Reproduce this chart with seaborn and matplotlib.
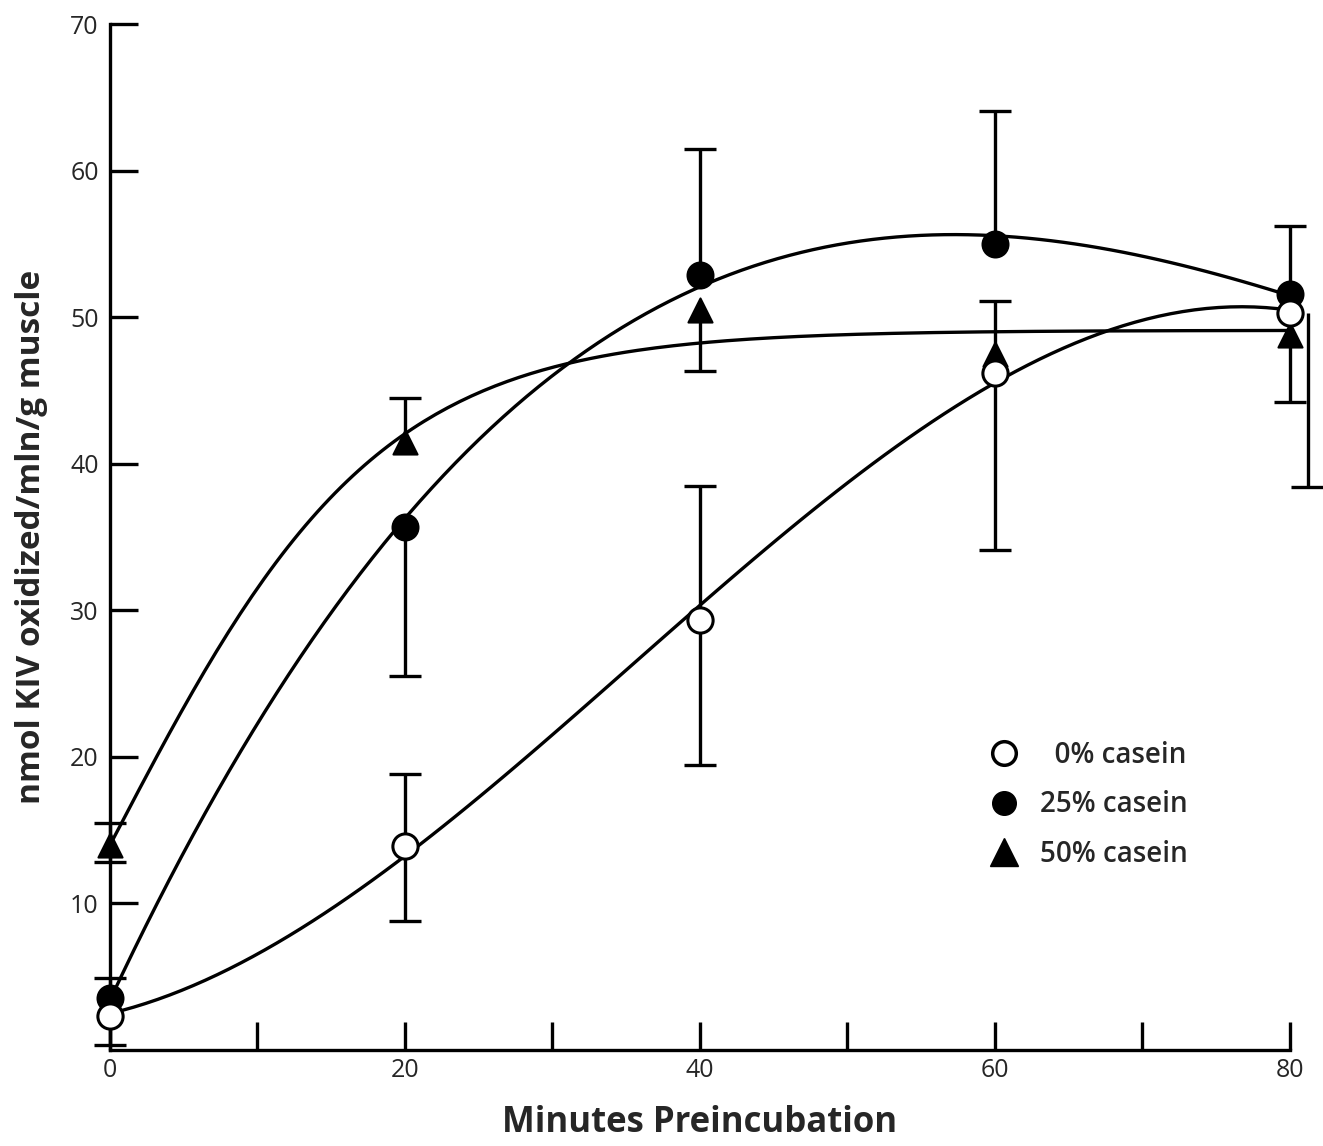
import numpy as np
import matplotlib
matplotlib.use('Agg')
import matplotlib.pyplot as plt
import seaborn as sns
from matplotlib.lines import Line2D

# values
minutes = [0, 20, 40, 60, 80]

casein0 = [2.3, 13.9, 29.3, 46.2, 50.3]
casein0_err_x = [0, 20, 40, 60, 81.2]
casein0_lo = [2.0, 5.1, 9.9, 12.1, 11.9]
casein0_hi = [0.0, 4.9, 9.2, 0.0, 0.0]

casein25 = [3.5, 35.7, 52.9, 55.0, 51.6]
casein25_lo = [0.0, 10.2, 0.0, 0.0, 0.0]
casein25_hi = [1.4, 0.0, 8.6, 9.1, 4.6]

casein50 = [14.0, 41.5, 50.5, 47.5, 48.8]
casein50_lo = [1.2, 0.0, 4.2, 0.0, 4.6]
casein50_hi = [1.5, 3.0, 0.0, 3.6, 0.0]

legend_labels = ['  0% casein', '25% casein', '50% casein']

sns.set_style('ticks')
plt.rcParams['font.family'] = ['Open Sans', 'DejaVu Sans']

fig = plt.figure(figsize=(13.23, 11.46), dpi=100)
ax = fig.add_axes([0.083, 0.084, 0.892, 0.895])

LW = 2.4
CAP = 1.1  # half width of error caps in minutes


def draw_errors(xs, ys, lo, hi):
    for x, y, l, h in zip(xs, ys, lo, hi):
        if l > 0:
            ax.vlines(x, y - l, y, color='black', lw=LW, zorder=2, clip_on=False)
            ax.hlines(y - l, x - CAP, x + CAP, color='black', lw=LW, zorder=2, clip_on=False)
        if h > 0:
            ax.vlines(x, y, y + h, color='black', lw=LW, zorder=2, clip_on=False)
            ax.hlines(y + h, x - CAP, x + CAP, color='black', lw=LW, zorder=2, clip_on=False)


def saturating_fit(xs, ys):
    # least squares fit of y = a + b*tanh(x/tau), tau by grid search
    xs = np.asarray(xs, float)
    ys = np.asarray(ys, float)
    best = None
    for tau in np.linspace(5, 60, 221):
        A = np.column_stack([np.ones_like(xs), np.tanh(xs / tau)])
        coef, *_ = np.linalg.lstsq(A, ys, rcond=None)
        err = np.sum((A @ coef - ys) ** 2)
        if best is None or err < best[0]:
            best = (err, tau, coef)
    _, tau, coef = best
    grid = np.linspace(xs.min(), xs.max(), 200)
    return grid, coef[0] + coef[1] * np.tanh(grid / tau)


line_kws = dict(color='black', lw=LW, zorder=2, clip_on=False)
for vals in [casein0, casein25]:
    sns.regplot(x=minutes, y=vals, order=3, ci=None, scatter=False,
                truncate=True, line_kws=line_kws, ax=ax)
gx, gy = saturating_fit(minutes, casein50)
sns.lineplot(x=gx, y=gy, color='black', lw=LW, zorder=2, ax=ax, clip_on=False)

draw_errors(casein0_err_x, casein0, casein0_lo, casein0_hi)
draw_errors(minutes, casein25, casein25_lo, casein25_hi)
draw_errors(minutes, casein50, casein50_lo, casein50_hi)

ax.scatter(minutes, casein50, marker='^', s=300, facecolor='black',
           edgecolor='black', linewidth=1.5, zorder=3, clip_on=False)
ax.scatter(minutes, casein25, marker='o', s=330, facecolor='black',
           edgecolor='black', linewidth=2, zorder=4, clip_on=False)
ax.scatter(minutes, casein0, marker='o', s=330, facecolor='white',
           edgecolor='black', linewidth=2.2, zorder=5, clip_on=False)

ax.set_xlim(0, 80)
ax.set_ylim(0, 70)
ax.set_xticks([0, 20, 40, 60, 80])
ax.set_xticks([10, 30, 50, 70], minor=True)
ax.set_yticks([10, 20, 30, 40, 50, 60, 70])
ax.tick_params(axis='both', which='both', direction='in', length=20,
               width=LW, labelsize=18, color='black')
ax.tick_params(axis='x', pad=6)
ax.tick_params(axis='y', pad=8)
for lab in ax.get_xticklabels() + ax.get_yticklabels():
    lab.set_fontweight('medium')
sns.despine(ax=ax)
for s in ['left', 'bottom']:
    ax.spines[s].set_linewidth(LW)
    ax.spines[s].set_color('black')

ax.set_xlabel('Minutes Preincubation', fontsize=25, fontweight='bold', labelpad=16)
ax.set_ylabel('nmol KIV oxidized/mln/g muscle', fontsize=24, fontweight='bold', labelpad=16)

handles = [
    Line2D([], [], marker='o', ls='', markersize=17, markerfacecolor='white',
           markeredgecolor='black', markeredgewidth=2.5),
    Line2D([], [], marker='o', ls='', markersize=17, markerfacecolor='black',
           markeredgecolor='black'),
    Line2D([], [], marker='^', ls='', markersize=20, markerfacecolor='black',
           markeredgecolor='black'),
]
leg = ax.legend(handles, legend_labels, loc='upper left',
                bbox_to_anchor=(0.722, 0.315), frameon=False, fontsize=20,
                handletextpad=0.3, labelspacing=0.75, borderpad=0)
for t in leg.get_texts():
    t.set_fontweight('semibold')

fig.savefig('out.png', dpi=100)
